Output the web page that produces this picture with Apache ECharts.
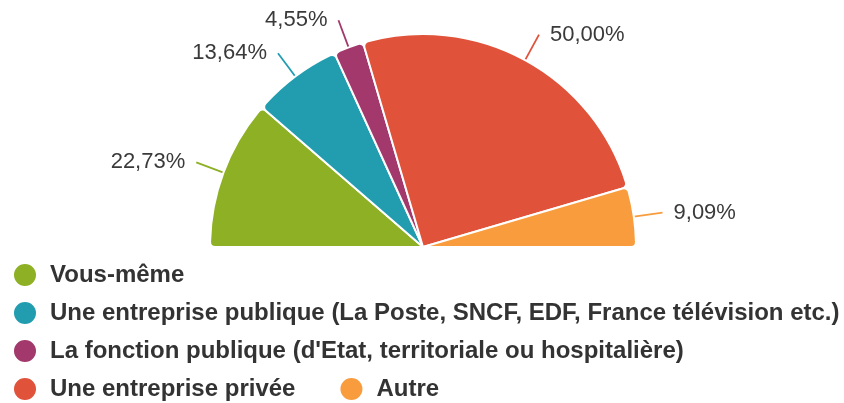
<!DOCTYPE html>
<html><head><meta charset="utf-8">
<script src="https://cdn.jsdelivr.net/npm/echarts@6/dist/echarts.min.js"></script>
<style>html,body{margin:0;padding:0;background:#fff}#c{width:844px;height:403px}</style>
</head><body><div id="c"></div>
<script>
const categories = [
  "Vous-même",
  "Une entreprise publique (La Poste, SNCF, EDF, France télévision etc.)",
  "La fonction publique (d'Etat, territoriale ou hospitalière)",
  "Une entreprise privée",
  "Autre"
];
const values = [22.73, 13.64, 4.55, 50.00, 9.09];
const colors = ["#8DB024", "#229DB0", "#A2386B", "#E0523A", "#F99C3D"];

const chart = echarts.init(document.getElementById('c'));
const legendText = {fontFamily: 'Liberation Sans, Arial, sans-serif', fontSize: 24, fontWeight: 'bold', color: '#333', padding: [0, 0, 0, 8]};
const mkLegend = (names, top, gap) => ({
  data: names, top: top, left: 12, orient: 'horizontal', icon: 'circle',
  itemWidth: 24, itemHeight: 24, itemGap: gap, textStyle: legendText, padding: 0, selectedMode: true
});
chart.setOption({
  animation: false,
  color: colors,
  legend: [
    mkLegend([categories[0]], 262, 10),
    mkLegend([categories[1]], 300, 10),
    mkLegend([categories[2]], 338, 10),
    mkLegend([categories[3], categories[4]], 376, 43)
  ],
  series: [{
    type: 'pie',
    center: [423, 247],
    radius: [0, 213],
    startAngle: 180,
    endAngle: 0,
    clockwise: true,
    avoidLabelOverlap: false,
    itemStyle: {borderColor: '#fff', borderWidth: 2, borderRadius: 5},
    label: {
      show: true,
      formatter: p => p.value.toFixed(2).replace('.', ',') + '%',
      fontFamily: 'Liberation Sans, Arial, sans-serif',
      fontSize: 22,
      color: '#3a3a3a',
      padding: [6, 0, 0, 0],
      distanceToLabelLine: 11
    },
    labelLine: {show: true, length: 29, length2: 0, lineStyle: {width: 1.8}},
    data: categories.map((n, i) => ({name: n, value: values[i]}))
  }]
});
</script></body></html>
